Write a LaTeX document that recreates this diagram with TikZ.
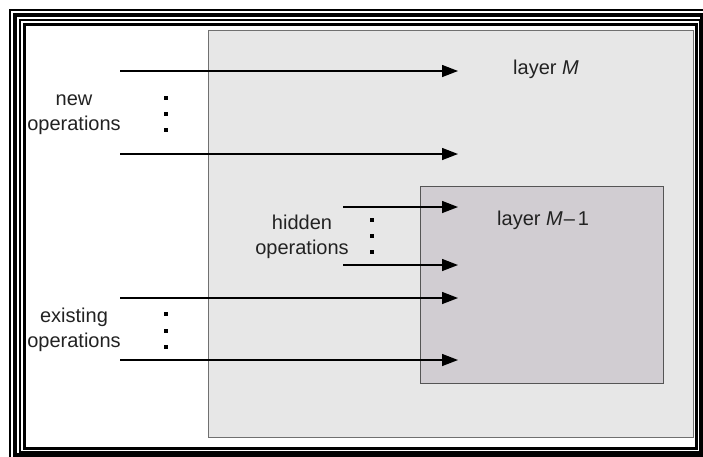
\documentclass[tikz,border=0pt]{standalone}
\usepackage{fontspec}
\setmainfont{Liberation Sans}
\usetikzlibrary{arrows.meta}
\definecolor{outerfill}{HTML}{E7E7E7}
\definecolor{outerline}{HTML}{707070}
\definecolor{innerfill}{HTML}{D1CDD2}
\definecolor{innerline}{HTML}{555555}
\definecolor{txt}{HTML}{222222}
\begin{document}
\begin{tikzpicture}[x=1pt,y=-1pt,
  arr/.style={line width=1.4pt, draw=black, -{Triangle[length=16pt,width=12pt]}},
  lbl/.style={font=\fontsize{20}{25}\selectfont, align=center, inner sep=0pt, text=txt},
  dotm/.style={fill=black, rectangle, minimum size=3.5pt, inner sep=0pt},
  framepart/.style={draw=black}]
\useasboundingbox (0,0) rectangle (703,456);
\fill[white] (0,0) rectangle (703,456);
% frame
\draw[framepart, line width=1.5pt] (10,10) rectangle (730,480);
\draw[framepart, line width=4pt] (15,15) rectangle (702,455);
\draw[framepart, line width=1.2pt] (20,20) rectangle (700,452);
\draw[framepart, line width=3pt] (24,24) rectangle (696,448);
% layers
\node[draw=outerline, fill=outerfill, line width=1pt, rectangle, inner sep=0pt,
      minimum width=485pt, minimum height=407pt, anchor=north west] (layerMbox) at (208,30) {};
\node[draw=innerline, fill=innerfill, line width=1.2pt, rectangle, inner sep=0pt,
      minimum width=243pt, minimum height=197pt, anchor=north west] (layerM1box) at (420,186) {};
% labels
\node[lbl, anchor=base west] (layerM) at (513,74) {layer \textit{M}};
\node[lbl, anchor=base west] (layerM1) at (497,225) {layer \textit{M}\kern1pt–\kern3pt1};
\node[lbl] (newops) at (74,115) {new\\operations};
\node[lbl] (hiddenops) at (302,237) {hidden\\operations};
\node[lbl] (existops) at (74,330) {existing\\operations};
% arrow ends
\coordinate (n1s) at (120,71);  \coordinate (n1e) at (458,71);
\coordinate (n2s) at (120,154); \coordinate (n2e) at (458,154);
\coordinate (h1s) at (343,207); \coordinate (h1e) at (458,207);
\coordinate (h2s) at (343,265); \coordinate (h2e) at (458,265);
\coordinate (e1s) at (120,298); \coordinate (e1e) at (458,298);
\coordinate (e2s) at (120,360); \coordinate (e2e) at (458,360);
\draw[arr] (n1s) -- (n1e);
\draw[arr] (n2s) -- (n2e);
\draw[arr] (h1s) -- (h1e);
\draw[arr] (h2s) -- (h2e);
\draw[arr] (e1s) -- (e1e);
\draw[arr] (e2s) -- (e2e);
% dots
\node[dotm] (nd1) at (166,98) {};
\node[dotm] (nd2) at (166,114) {};
\node[dotm] (nd3) at (166,130) {};
\node[dotm] (hd1) at (372,220) {};
\node[dotm] (hd2) at (372,236) {};
\node[dotm] (hd3) at (372,252) {};
\node[dotm] (ed1) at (166,314) {};
\node[dotm] (ed2) at (166,331) {};
\node[dotm] (ed3) at (166,347) {};
\end{tikzpicture}
\end{document}
